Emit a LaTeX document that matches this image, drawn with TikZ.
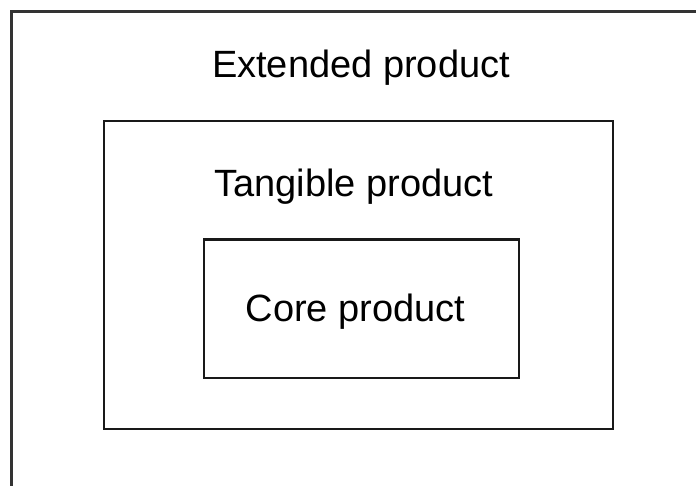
\documentclass[tikz,border=0pt]{standalone}
\usepackage{fontspec}
\setmainfont{Liberation Sans}
\begin{document}
\begin{tikzpicture}[x=1pt,y=-1pt,
  boxframe/.style={draw=black!90, line width=2.2pt, inner sep=0pt},
  label/.style={font=\fontsize{38}{42}\selectfont, inner sep=0pt, anchor=base, text=black}]
\useasboundingbox (0,0) rectangle (696,486);
\clip (0,0) rectangle (696,486);
\fill[white] (0,0) rectangle (696,486);
\node[boxframe, draw=black!80, line width=2.8pt, minimum width=709pt, minimum height=509pt] (outer) at (366,266) {};
\node[boxframe, minimum width=509pt, minimum height=308pt] (middle) at (358.5,275) {};
\node[boxframe, minimum width=315pt, minimum height=138.5pt] (inner) at (361.5,308.75) {};
\node[label] (ext) at (361,78) {Extended product};
\node[label] (tan) at (354,197) {Tangible product};
\node[label] (core) at (355.5,321) {Core product};
\end{tikzpicture}
\end{document}
